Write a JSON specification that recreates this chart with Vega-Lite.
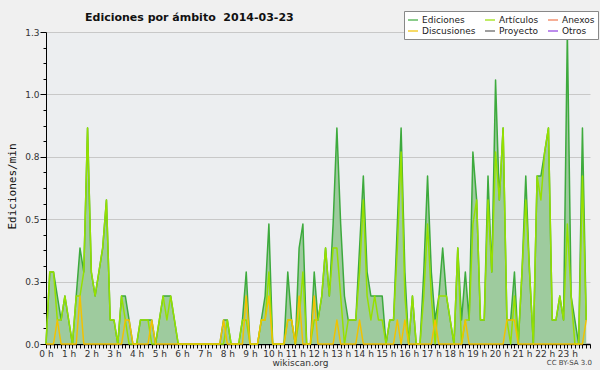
{
  "$schema": "https://vega.github.io/schema/vega-lite/v6.json",
  "width": 544,
  "height": 312,
  "autosize": {"type": "none"},
  "padding": {"left": 46, "top": 32, "right": 10, "bottom": 26},
  "background": "#f0f0f0",
  "config": {"view": {"stroke": null, "fill": "#eceef0"}, "font": "DejaVu Sans"},
  "title": {"text": "Ediciones por ámbito\u00a0 2014-03-23", "anchor": "start", "frame": "group", "dx": 39, "dy": 21, "offset": 9, "fontSize": 11, "fontWeight": "bold", "color": "#111", "font": "DejaVu Sans"},
  "data": {"values": [
    {"m":0,"e":0,"a":0,"d":0},{"m":10,"e":0.3,"a":0.3,"d":0},{"m":20,"e":0.3,"a":0.3,"d":0},{"m":30,"e":0.2,"a":0.1,"d":0.1},{"m":40,"e":0.1,"a":0.1,"d":0},{"m":50,"e":0.2,"a":0.2,"d":0},
    {"m":60,"e":0.1,"a":0.1,"d":0},{"m":70,"e":0,"a":0,"d":0},{"m":80,"e":0.2,"a":0.2,"d":0},{"m":90,"e":0.4,"a":0.2,"d":0.2},{"m":100,"e":0.3,"a":0.3,"d":0},{"m":110,"e":0.9,"a":0.9,"d":0},
    {"m":120,"e":0.3,"a":0.3,"d":0},{"m":130,"e":0.2,"a":0.2,"d":0},{"m":140,"e":0.3,"a":0.3,"d":0},{"m":150,"e":0.4,"a":0.4,"d":0},{"m":160,"e":0.6,"a":0.6,"d":0},{"m":170,"e":0.1,"a":0.1,"d":0},
    {"m":180,"e":0.1,"a":0.1,"d":0},{"m":190,"e":0,"a":0,"d":0},{"m":200,"e":0.2,"a":0.2,"d":0},{"m":210,"e":0.2,"a":0.1,"d":0.1},{"m":220,"e":0.1,"a":0,"d":0.1},{"m":230,"e":0,"a":0,"d":0},
    {"m":240,"e":0,"a":0,"d":0},{"m":250,"e":0.1,"a":0.1,"d":0},{"m":260,"e":0.1,"a":0.1,"d":0},{"m":270,"e":0.1,"a":0.1,"d":0},{"m":280,"e":0.1,"a":0,"d":0.1},{"m":290,"e":0,"a":0,"d":0},
    {"m":300,"e":0.1,"a":0.1,"d":0},{"m":310,"e":0.2,"a":0.2,"d":0},{"m":320,"e":0.2,"a":0.1,"d":0},{"m":330,"e":0.2,"a":0.2,"d":0},{"m":340,"e":0.1,"a":0.1,"d":0},{"m":350,"e":0,"a":0,"d":0},
    {"m":360,"e":0,"a":0,"d":0},{"m":370,"e":0,"a":0,"d":0},{"m":380,"e":0,"a":0,"d":0},{"m":390,"e":0,"a":0,"d":0},{"m":400,"e":0,"a":0,"d":0},{"m":410,"e":0,"a":0,"d":0},
    {"m":420,"e":0,"a":0,"d":0},{"m":430,"e":0,"a":0,"d":0},{"m":440,"e":0,"a":0,"d":0},{"m":450,"e":0,"a":0,"d":0},{"m":460,"e":0,"a":0,"d":0},{"m":470,"e":0.1,"a":0,"d":0.1},
    {"m":480,"e":0.1,"a":0.1,"d":0},{"m":490,"e":0,"a":0,"d":0},{"m":500,"e":0,"a":0,"d":0},{"m":510,"e":0,"a":0,"d":0},{"m":520,"e":0.1,"a":0.1,"d":0},{"m":530,"e":0.3,"a":0.1,"d":0.2},
    {"m":540,"e":0,"a":0,"d":0},{"m":550,"e":0,"a":0,"d":0},{"m":560,"e":0,"a":0,"d":0},{"m":570,"e":0.1,"a":0.1,"d":0.1},{"m":580,"e":0.2,"a":0.1,"d":0.1},{"m":590,"e":0.5,"a":0.3,"d":0.2},
    {"m":600,"e":0,"a":0,"d":0},{"m":610,"e":0,"a":0,"d":0},{"m":620,"e":0,"a":0,"d":0},{"m":630,"e":0,"a":0,"d":0},{"m":640,"e":0.3,"a":0.1,"d":0.1},{"m":650,"e":0.1,"a":0.1,"d":0.1},
    {"m":660,"e":0,"a":0,"d":0},{"m":670,"e":0.4,"a":0.1,"d":0.2},{"m":680,"e":0.5,"a":0.3,"d":0},{"m":690,"e":0,"a":0,"d":0},{"m":700,"e":0,"a":0,"d":0},{"m":710,"e":0.3,"a":0.1,"d":0.2},
    {"m":720,"e":0.1,"a":0.1,"d":0},{"m":730,"e":0.2,"a":0.2,"d":0},{"m":740,"e":0.4,"a":0.4,"d":0},{"m":750,"e":0.2,"a":0.2,"d":0},{"m":760,"e":0.5,"a":0.4,"d":0},{"m":770,"e":0.9,"a":0.4,"d":0.1},
    {"m":780,"e":0.5,"a":0.2,"d":0},{"m":790,"e":0.2,"a":0,"d":0},{"m":800,"e":0.1,"a":0.1,"d":0},{"m":810,"e":0.1,"a":0.1,"d":0},{"m":820,"e":0.1,"a":0.1,"d":0},{"m":830,"e":0.4,"a":0.3,"d":0.1},
    {"m":840,"e":0.7,"a":0.6,"d":0},{"m":850,"e":0.3,"a":0.2,"d":0},{"m":860,"e":0.2,"a":0.1,"d":0},{"m":870,"e":0.2,"a":0.2,"d":0},{"m":880,"e":0.2,"a":0.1,"d":0},{"m":890,"e":0.2,"a":0.1,"d":0},
    {"m":900,"e":0,"a":0,"d":0},{"m":910,"e":0.1,"a":0.1,"d":0},{"m":920,"e":0.1,"a":0.1,"d":0},{"m":930,"e":0.5,"a":0.4,"d":0.1},{"m":940,"e":0.9,"a":0.8,"d":0},{"m":950,"e":0.3,"a":0.2,"d":0.1},
    {"m":960,"e":0,"a":0,"d":0},{"m":970,"e":0.2,"a":0.2,"d":0},{"m":980,"e":0,"a":0,"d":0},{"m":990,"e":0,"a":0,"d":0},{"m":1000,"e":0.3,"a":0.2,"d":0},{"m":1010,"e":0.7,"a":0.5,"d":0},
    {"m":1020,"e":0.3,"a":0.2,"d":0},{"m":1030,"e":0.1,"a":0,"d":0.1},{"m":1040,"e":0.2,"a":0.2,"d":0},{"m":1050,"e":0.4,"a":0.2,"d":0},{"m":1060,"e":0.2,"a":0.2,"d":0},{"m":1070,"e":0.1,"a":0.1,"d":0},
    {"m":1080,"e":0,"a":0,"d":0},{"m":1090,"e":0.4,"a":0.4,"d":0},{"m":1100,"e":0.1,"a":0,"d":0},{"m":1110,"e":0.3,"a":0.1,"d":0.1},{"m":1120,"e":0.1,"a":0.1,"d":0},{"m":1130,"e":0.8,"a":0.5,"d":0},
    {"m":1140,"e":0.6,"a":0.6,"d":0},{"m":1150,"e":0.1,"a":0.1,"d":0},{"m":1160,"e":0.1,"a":0.1,"d":0},{"m":1170,"e":0.7,"a":0.6,"d":0},{"m":1180,"e":0.3,"a":0.3,"d":0},{"m":1190,"e":1.1,"a":0.8,"d":0},
    {"m":1200,"e":0.6,"a":0.6,"d":0},{"m":1210,"e":0.9,"a":0.9,"d":0},{"m":1220,"e":0.1,"a":0.1,"d":0.1},{"m":1230,"e":0.1,"a":0,"d":0.1},{"m":1240,"e":0.3,"a":0.2,"d":0.1},{"m":1250,"e":0,"a":0,"d":0},
    {"m":1260,"e":0.3,"a":0.3,"d":0},{"m":1270,"e":0.7,"a":0.6,"d":0},{"m":1280,"e":0.3,"a":0.3,"d":0},{"m":1290,"e":0,"a":0,"d":0},{"m":1300,"e":0.7,"a":0.7,"d":0},{"m":1310,"e":0.7,"a":0.6,"d":0},
    {"m":1320,"e":0.8,"a":0.8,"d":0},{"m":1330,"e":0.9,"a":0.9,"d":0},{"m":1340,"e":0.1,"a":0.1,"d":0},{"m":1350,"e":0.1,"a":0.1,"d":0},{"m":1360,"e":0.2,"a":0.2,"d":0},{"m":1370,"e":0.1,"a":0.1,"d":0},
    {"m":1380,"e":1.3,"a":0.5,"d":0},{"m":1390,"e":0.2,"a":0.2,"d":0},{"m":1400,"e":0.1,"a":0,"d":0},{"m":1410,"e":0,"a":0,"d":0},{"m":1420,"e":0.9,"a":0.7,"d":0},{"m":1430,"e":0.1,"a":0.1,"d":0.1}
  ]},
  "transform": [{"fold": ["e", "a", "d"], "as": ["s", "v"]}],
  "encoding": {
    "x": {
      "field": "m", "type": "quantitative",
      "scale": {"domain": [0, 1440], "nice": false, "zero": false},
      "axis": {
        "values": [0,10,20,30,40,50,60,70,80,90,100,110,120,130,140,150,160,170,180,190,200,210,220,230,240,250,260,270,280,290,300,310,320,330,340,350,360,370,380,390,400,410,420,430,440,450,460,470,480,490,500,510,520,530,540,550,560,570,580,590,600,610,620,630,640,650,660,670,680,690,700,710,720,730,740,750,760,770,780,790,800,810,820,830,840,850,860,870,880,890,900,910,920,930,940,950,960,970,980,990,1000,1010,1020,1030,1040,1050,1060,1070,1080,1090,1100,1110,1120,1130,1140,1150,1160,1170,1180,1190,1200,1210,1220,1230,1240,1250,1260,1270,1280,1290,1300,1310,1320,1330,1340,1350,1360,1370,1380,1390,1400,1410,1420,1430,1440],
        "labelExpr": "(datum.value % 60 === 0 && datum.value < 1440) ? (datum.value / 60) + ' h' : ''",
        "labelOverlap": false, "labelFlush": false, "labelFontSize": 9, "labelColor": "#333", "labelPadding": 1,
        "tickSize": 4, "tickColor": "#000", "domainColor": "#000", "domainWidth": 1.5, "grid": false,
        "title": "wikiscan.org", "titleFontSize": 9, "titleFontWeight": "normal", "titleColor": "#333",
        "titleX": 254, "titleY": 21, "titleBaseline": "alphabetic", "titleAlign": "center", "titleAnchor": null
      }
    },
    "y": {
      "field": "v", "type": "quantitative",
      "scale": {"domain": [0, 1.3], "nice": false},
      "axis": {
        "values": [0,0.065,0.13,0.195,0.26,0.325,0.39,0.455,0.52,0.585,0.65,0.715,0.78,0.845,0.91,0.975,1.04,1.105,1.17,1.235,1.3],
        "labelExpr": "abs(datum.value / 0.26 - round(datum.value / 0.26)) < 0.01 ? format(datum.value, '.1f') : ''",
        "labelOverlap": false, "labelFlush": false, "labelFontSize": 9, "labelColor": "#333", "labelPadding": 1,
        "tickSize": {"condition": {"test": "abs(datum.value / 0.26 - round(datum.value / 0.26)) < 0.01", "value": 6}, "value": 3},
        "tickColor": "#000", "domainColor": "#000",
        "grid": true, "gridColor": "#c8c8c8",
        "gridOpacity": {"condition": {"test": "abs(datum.value / 0.26 - round(datum.value / 0.26)) < 0.01", "value": 1}, "value": 0},
        "title": "Ediciones/min", "titleFont": "DejaVu Sans Mono", "titleFontSize": 11, "titleFontWeight": "normal", "titleColor": "#111",
        "titleX": -34, "titleY": 154, "titleAlign": "center", "titleBaseline": "middle", "titleAngle": 270
      }
    }
  },
  "layer": [
    {
      "transform": [{"filter": "datum.s === 'e'"}],
      "mark": {"type": "area", "color": "#9ecb9e", "opacity": 1, "clip": false}
    },
    {
      "mark": {"type": "line", "strokeWidth": 1.5, "strokeJoin": "round", "clip": false},
      "encoding": {
        "color": {
          "field": "s", "type": "nominal",
          "scale": {"domain": ["e", "a", "x", "d", "p", "o"], "range": ["#3daa3d", "#96e000", "#f07850", "#f2c200", "#606060", "#9040e0"]},
          "legend": {
            "orient": "none", "legendX": 358, "legendY": -21, "direction": "horizontal", "columns": 3,
            "title": null, "fillColor": "#ffffff", "strokeColor": "#888", "padding": 3, "cornerRadius": 0,
            "symbolType": "stroke", "symbolSize": 100, "symbolStrokeWidth": 1.2,
            "labelFontSize": 9, "labelFont": "DejaVu Sans", "labelColor": "#222", "labelOffset": 3,
            "rowPadding": -2, "columnPadding": 6,
            "labelExpr": "datum.label == 'e' ? 'Ediciones' : datum.label == 'a' ? 'Artículos' : datum.label == 'x' ? 'Anexos' : datum.label == 'd' ? 'Discusiones' : datum.label == 'p' ? 'Proyecto' : 'Otros'"
          }
        }
      }
    },
    {
      "transform": [{"filter": "datum.m === 1380 && datum.s === 'e'"}],
      "mark": {"type": "text", "text": "CC BY-SA 3.0", "fontSize": 7, "color": "#444", "align": "center", "baseline": "middle", "dx": 2, "clip": false},
      "encoding": {"y": {"datum": -0.078}}
    }
  ]
}
